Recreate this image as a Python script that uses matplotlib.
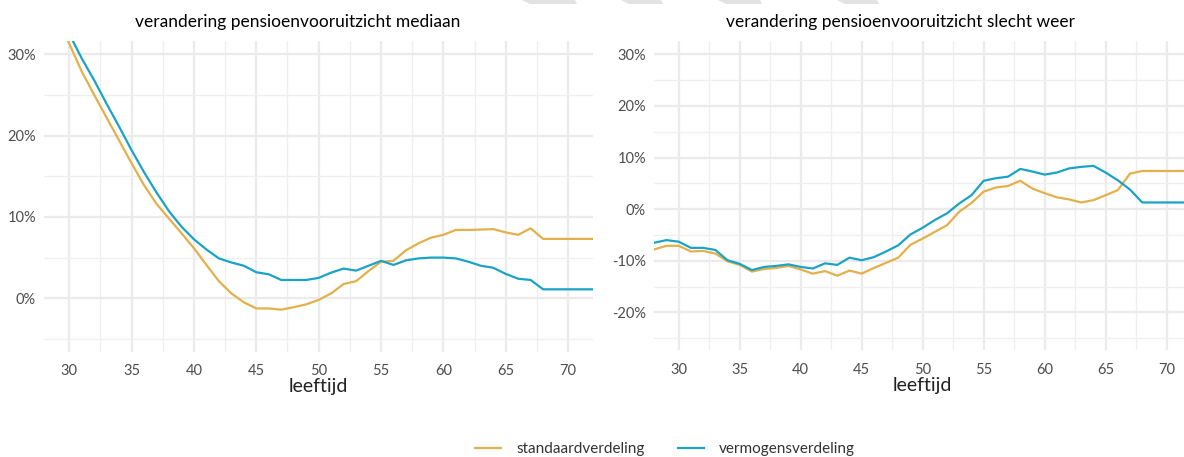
import matplotlib.pyplot as plt
from matplotlib.patches import Polygon
from matplotlib.ticker import FuncFormatter, MultipleLocator
import numpy as np

plt.rcParams['font.family'] = ['Lato', 'DejaVu Sans']

# --- data ---
leeftijd = np.arange(28, 73)

# mediaan, ages 28..72 (values for 28-29 are above the visible range)
med_standaard = [38.5, 35.0, 31.3, 27.9, 25.0, 22.2, 19.4, 16.6, 13.9, 11.6,
                 9.8, 8.0, 6.15, 4.1, 2.1, 0.6, -0.5, -1.25, -1.25, -1.4,
                 -1.1, -0.75, -0.2, 0.6, 1.75, 2.1, 3.35, 4.5, 4.6, 5.9,
                 6.75, 7.45, 7.8, 8.4, 8.4, 8.45, 8.5, 8.1, 7.8, 8.6,
                 7.3, 7.3, 7.3, 7.3, 7.3]
med_vermogen = [39.5, 36.0, 32.5, 29.5, 26.8, 23.9, 21.1, 18.2, 15.5, 13.0,
                10.7, 8.8, 7.25, 6.0, 4.9, 4.4, 4.0, 3.2, 2.95, 2.25,
                2.25, 2.25, 2.5, 3.15, 3.65, 3.4, 4.0, 4.6, 4.1, 4.66,
                4.9, 5.0, 5.0, 4.9, 4.5, 4.0, 3.75, 3.0, 2.4, 2.25,
                1.1, 1.1, 1.1, 1.1, 1.1]

# slecht weer, ages 28..72
sw_standaard = [-7.8, -7.1, -7.1, -8.2, -8.1, -8.6, -10.1, -10.8, -12.1, -11.6,
                -11.4, -11.0, -11.7, -12.5, -12.0, -12.9, -11.9, -12.5, -11.4, -10.4,
                -9.4, -6.9, -5.7, -4.4, -3.1, -0.5, 1.2, 3.4, 4.2, 4.5,
                5.5, 4.0, 3.1, 2.3, 1.9, 1.3, 1.75, 2.7, 3.7, 6.9,
                7.4, 7.4, 7.4, 7.4, 7.4]
sw_vermogen = [-6.5, -6.0, -6.3, -7.5, -7.5, -7.9, -9.9, -10.6, -11.8, -11.2,
               -11.0, -10.7, -11.2, -11.5, -10.5, -10.8, -9.4, -9.9, -9.3, -8.2,
               -7.0, -4.9, -3.6, -2.1, -0.8, 1.1, 2.7, 5.5, 6.0, 6.3,
               7.8, 7.3, 6.7, 7.1, 7.9, 8.2, 8.4, 7.1, 5.6, 3.8,
               1.3, 1.3, 1.3, 1.3, 1.3]

titels = ["verandering pensioenvooruitzicht mediaan",
          "verandering pensioenvooruitzicht slecht weer"]
reeksen = ["standaardverdeling", "vermogensverdeling"]
kleuren = ["#E3B04B", "#1BA3C6"]

W, H = 1184, 457
fig = plt.figure(figsize=(W / 100, H / 100), dpi=100, facecolor='white')


def px_axes(x0, y0, x1, y1):
    return fig.add_axes([x0 / W, 1 - y1 / H, (x1 - x0) / W, (y1 - y0) / H])


ax1 = px_axes(44.3, 40.7, 593, 351.7)
ax2 = px_axes(654.3, 41, 1191, 350)

panels = [(ax1, med_standaard, med_vermogen, (-6.57, 31.67), titels[0], 298),
          (ax2, sw_standaard, sw_vermogen, (-27.3, 32.6), titels[1], 900)]

for ax, st, vm, ylim, titel, tx in panels:
    ax.set_facecolor('white')
    for s in ax.spines.values():
        s.set_visible(False)
    ax.xaxis.set_major_locator(MultipleLocator(5))
    ax.xaxis.set_minor_locator(MultipleLocator(2.5))
    ax.yaxis.set_major_locator(MultipleLocator(10))
    ax.yaxis.set_minor_locator(MultipleLocator(5))
    ax.grid(which='major', color='#EBEBEB', lw=1.6)
    ax.grid(which='minor', color='#EFEFEF', lw=0.9)
    ax.set_axisbelow(True)
    ax.tick_params(which='both', length=0)
    ax.tick_params(axis='x', pad=9, labelsize=10.5, labelcolor='#4D4D4D')
    ax.tick_params(axis='y', pad=6, labelsize=10.5, labelcolor='#4D4D4D')
    ax.yaxis.set_major_formatter(FuncFormatter(lambda v, p: f"{v:.0f}%"))

    ax.plot(leeftijd, st, color=kleuren[0], lw=1.6, label=reeksen[0])
    ax.plot(leeftijd, vm, color=kleuren[1], lw=1.6, label=reeksen[1])
    ax.set_xlim(28, 72)
    ax.set_ylim(*ylim)
    ax.set_xlabel("leeftijd", fontsize=14, color='#222222', labelpad=0)
    fig.text(tx / W, 1 - 22 / H, titel, ha='center', va='center',
             fontsize=12.5, color='black')

handles, labels = ax1.get_legend_handles_labels()
fig.legend(handles, labels, loc='center', bbox_to_anchor=(665 / W, 1 - 449 / H),
           ncol=2, frameon=False, fontsize=11, handlelength=1.7,
           handletextpad=1.0, columnspacing=2.2, labelcolor='#333333')

# faded watermark fragments along the top edge
for x0, x1 in [(522, 575), (621, 661), (718, 760), (837, 877)]:
    fig.patches.append(Polygon([(x0 / W, 1.0), (x1 / W, 1.0),
                                ((x1 + 2) / W, 1 - 4 / H), ((x0 + 8) / W, 1 - 4 / H)],
                               closed=True, transform=fig.transFigure,
                               facecolor='#E2E2E2', edgecolor='none'))

fig.savefig('out.png', dpi=100, facecolor='white')
